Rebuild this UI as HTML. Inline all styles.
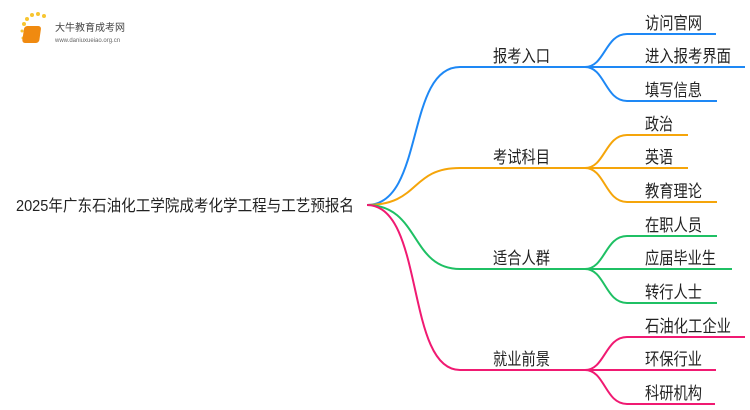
<!DOCTYPE html>
<html><head><meta charset="utf-8"><style>
html,body{margin:0;padding:0;background:#fff;width:750px;height:410px;overflow:hidden}
text{font-family:"Liberation Sans","Noto Sans CJK SC",sans-serif;font-size:17px;fill:#222}
</style></head><body>
<svg width="750" height="410" viewBox="0 0 750 410" xmlns="http://www.w3.org/2000/svg">
<g fill="none" stroke-width="2">
<path d="M367 205 C425 205 405 67 460 67 L585 67" stroke="#1e88f5"/>
<path d="M585 67 C605 67 605 34 627 34 L716 34" stroke="#1e88f5"/>
<path d="M585 67 L745 67" stroke="#1e88f5"/>
<path d="M585 67 C605 67 605 101 627 101 L717 101" stroke="#1e88f5"/>
<path d="M367 205 C420 205 410 168 460 168 L585 168" stroke="#f5a50a"/>
<path d="M585 168 C605 168 605 135 627 135 L688 135" stroke="#f5a50a"/>
<path d="M585 168 L688 168" stroke="#f5a50a"/>
<path d="M585 168 C605 168 605 202 627 202 L717 202" stroke="#f5a50a"/>
<path d="M367 205 C420 205 410 269 460 269 L585 269" stroke="#1fc064"/>
<path d="M585 269 C605 269 605 236 627 236 L717 236" stroke="#1fc064"/>
<path d="M585 269 L732 269" stroke="#1fc064"/>
<path d="M585 269 C605 269 605 303 627 303 L717 303" stroke="#1fc064"/>
<path d="M367 205 C425 205 405 370 460 370 L585 370" stroke="#f01a72"/>
<path d="M585 370 C605 370 605 337 627 337 L745 337" stroke="#f01a72"/>
<path d="M585 370 L716 370" stroke="#f01a72"/>
<path d="M585 370 C605 370 605 404 627 404 L715 404" stroke="#f01a72"/>
</g>
<text x="16" y="211" style="font-size:16px" textLength="338" lengthAdjust="spacingAndGlyphs">2025年广东石油化工学院成考化学工程与工艺预报名</text>
<g>
<text x="493" y="62" textLength="57" lengthAdjust="spacingAndGlyphs">报考入口</text>
<text x="493" y="163" textLength="57" lengthAdjust="spacingAndGlyphs">考试科目</text>
<text x="493" y="264" textLength="57" lengthAdjust="spacingAndGlyphs">适合人群</text>
<text x="493" y="365" textLength="57" lengthAdjust="spacingAndGlyphs">就业前景</text>
<text x="645" y="29" textLength="57" lengthAdjust="spacingAndGlyphs">访问官网</text>
<text x="645" y="62" textLength="86" lengthAdjust="spacingAndGlyphs">进入报考界面</text>
<text x="645" y="96" textLength="57" lengthAdjust="spacingAndGlyphs">填写信息</text>
<text x="645" y="130" textLength="28" lengthAdjust="spacingAndGlyphs">政治</text>
<text x="645" y="163" textLength="28" lengthAdjust="spacingAndGlyphs">英语</text>
<text x="645" y="197" textLength="57" lengthAdjust="spacingAndGlyphs">教育理论</text>
<text x="645" y="231" textLength="57" lengthAdjust="spacingAndGlyphs">在职人员</text>
<text x="645" y="264" textLength="71" lengthAdjust="spacingAndGlyphs">应届毕业生</text>
<text x="645" y="298" textLength="57" lengthAdjust="spacingAndGlyphs">转行人士</text>
<text x="645" y="332" textLength="86" lengthAdjust="spacingAndGlyphs">石油化工企业</text>
<text x="645" y="365" textLength="57" lengthAdjust="spacingAndGlyphs">环保行业</text>
<text x="645" y="399" textLength="57" lengthAdjust="spacingAndGlyphs">科研机构</text>
</g>
<g fill="#f7c531">
<circle cx="24" cy="24" r="2"/><circle cx="27" cy="19" r="2"/><circle cx="32" cy="15" r="2"/><circle cx="38" cy="14" r="2"/><circle cx="44" cy="16" r="2"/><circle cx="22" cy="31" r="1.5"/><circle cx="23" cy="38" r="1.5"/>
</g>
<rect x="28" y="26" width="17" height="17" rx="3" fill="#f08a10" transform="skewX(-8)"/>
<text x="55" y="31" style="font-size:10px;fill:#444">大牛教育成考网</text>
<text x="55" y="42" style="font-size:6px;fill:#666">www.daniuxueiao.org.cn</text>
</svg>
</body></html>
